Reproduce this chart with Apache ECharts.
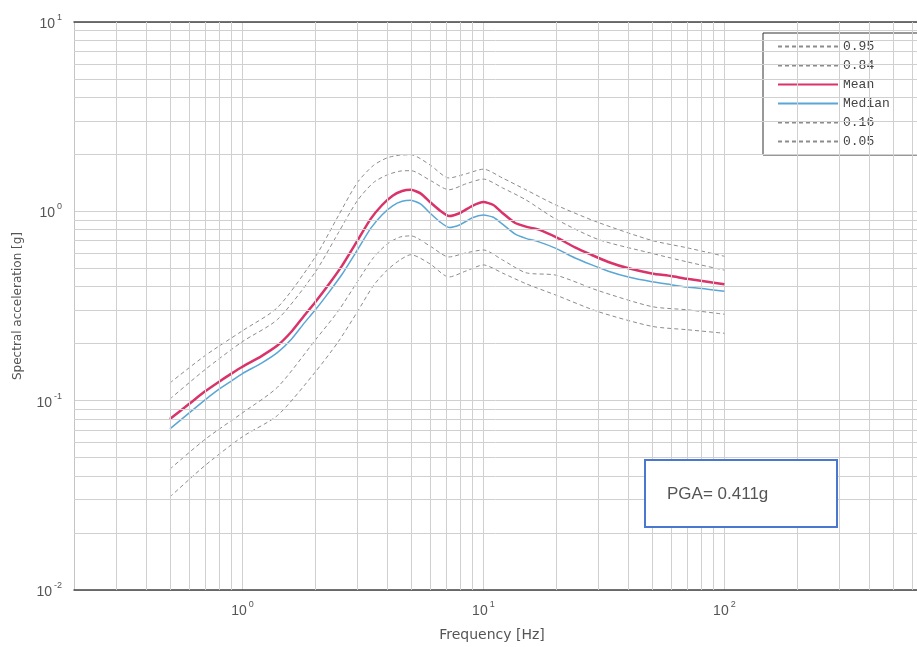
<!DOCTYPE html>
<html>
<head>
<meta charset="utf-8">
<script src="https://cdn.jsdelivr.net/npm/echarts@6/dist/echarts.min.js"></script>
<style>html,body{margin:0;padding:0;background:#fff;}#c{width:917px;height:647px;}</style>
</head>
<body>
<div id="c"></div>
<script>
// Frequencies (Hz) for Mean / Median
const freq = [0.5,0.6,0.7,0.8,0.9,1.0,1.2,1.4,1.6,1.8,2.0,2.3,2.6,3.0,3.4,3.8,4.2,4.6,5.0,5.5,6.0,6.6,7.2,8.0,9.0,10,11,12,13.5,15,17,20,24,28,33,40,50,60,70,85,100];
const meanSa = [0.080,0.096,0.112,0.126,0.139,0.151,0.172,0.196,0.232,0.280,0.330,0.417,0.52,0.70,0.91,1.08,1.21,1.28,1.30,1.24,1.12,1.01,0.945,0.98,1.07,1.12,1.08,0.98,0.87,0.83,0.80,0.73,0.645,0.59,0.54,0.50,0.47,0.455,0.44,0.425,0.412];
const medianSa = [0.071,0.086,0.101,0.115,0.127,0.139,0.158,0.180,0.212,0.256,0.300,0.378,0.468,0.625,0.81,0.96,1.07,1.13,1.145,1.09,0.98,0.88,0.822,0.85,0.925,0.955,0.93,0.855,0.76,0.72,0.69,0.637,0.567,0.523,0.483,0.45,0.425,0.41,0.398,0.388,0.378];
// Frequencies (Hz) for percentile curves
const pFreq = [0.5,0.7,1.0,1.4,2.0,2.5,3.0,3.5,4.0,4.5,5.0,6.0,7.2,8.5,10,12,15,20,30,50,70,100];
const p95 = [0.124,0.173,0.234,0.311,0.571,0.947,1.42,1.75,1.92,1.98,1.99,1.76,1.50,1.58,1.67,1.50,1.30,1.08,0.873,0.702,0.642,0.579];
const p84 = [0.102,0.146,0.205,0.269,0.475,0.770,1.14,1.42,1.56,1.63,1.64,1.46,1.30,1.40,1.48,1.33,1.15,0.909,0.710,0.600,0.541,0.489];
const p16 = [0.0435,0.0625,0.0862,0.118,0.208,0.298,0.425,0.570,0.674,0.731,0.742,0.656,0.574,0.604,0.625,0.554,0.474,0.460,0.381,0.314,0.302,0.286];
const p05 = [0.031,0.0455,0.0645,0.0837,0.141,0.205,0.295,0.406,0.491,0.553,0.590,0.528,0.450,0.485,0.521,0.472,0.415,0.361,0.295,0.247,0.237,0.227];
const legendNames = ['0.95','0.84','Mean','Median','0.16','0.05'];
const xRange = [0.2, 630];
const yRange = [0.01, 10];
const pgaText = 'PGA= 0.411g';

function pairs(xs, ys){ return xs.map((x,i)=>[x, ys[i]]); }
function minorVals(lo, hi){
  const out = [];
  for (let k=-3;k<=3;k++){ for (let m=2;m<=9;m++){ const v = m*Math.pow(10,k); if (v>lo*1.0001 && v<hi*0.9999) out.push(v); } }
  return out;
}
function powLabel(v){
  const l = Math.log10(v), e = Math.round(l);
  if (Math.abs(l-e) > 1e-6) return '';
  return '{b|10}{e|' + e + '}';
}
const gridColor = '#d0d0d0';
const rich = {
  b:{fontSize:14, color:'#555', fontFamily:'Liberation Sans', lineHeight:18, verticalAlign:'bottom'},
  e:{fontSize:9, color:'#555', fontFamily:'Liberation Sans', lineHeight:18, verticalAlign:'top', padding:[0,0,0,2]}
};
const dashStyle = {color:'#8c8c8c', width:1, type:[4,3]};
const chart = echarts.init(document.getElementById('c'), null, {renderer:'canvas'});
chart.setOption({
  animation:false,
  backgroundColor:'#fff',
  grid:{left:74, top:22, right:0, bottom:57},
  xAxis:[{
    type:'log', logBase:10, min:xRange[0], max:xRange[1],
    axisLine:{show:true, lineStyle:{color:'#444', width:1.5}},
    axisTick:{show:false},
    splitLine:{show:true, lineStyle:{color:gridColor, width:1}},
    axisLabel:{formatter:powLabel, rich:rich, margin:10, showMinLabel:false, showMaxLabel:false}
  },{
    type:'log', logBase:10, min:xRange[0], max:xRange[1], position:'top',
    axisLine:{show:true, lineStyle:{color:'#444', width:1.5}},
    axisTick:{show:false}, axisLabel:{show:false}, splitLine:{show:false}
  }],
  yAxis:{
    type:'log', logBase:10, min:yRange[0], max:yRange[1],
    name:'Spectral acceleration [g]', nameLocation:'middle', nameGap:50,
    nameTextStyle:{fontSize:12, color:'#555', fontFamily:'DejaVu Sans'},
    axisLine:{show:true, lineStyle:{color:'#c4c4c4', width:1}},
    axisTick:{show:false},
    splitLine:{show:true, lineStyle:{color:gridColor, width:1}},
    axisLabel:{formatter:powLabel, rich:rich, margin:12}
  },
  legend:{
    data:legendNames, orient:'vertical', left:763, top:33,
    padding:[6,40,6,14], itemWidth:60, itemHeight:14, itemGap:4,
    itemStyle:{opacity:0},
    borderColor:'#333', borderWidth:1, backgroundColor:'#fff',
    textStyle:{fontFamily:'Liberation Mono', fontSize:13, color:'#444', lineHeight:15}
  },
  graphic:[
    {type:'rect', shape:{x:645, y:460, width:192, height:67}, style:{fill:'#fff', stroke:'#4a78d0', lineWidth:2}, z:100},
    {type:'text', x:667, y:494, style:{text:pgaText, fontSize:17, fontFamily:'Liberation Sans', fill:'#555', textVerticalAlign:'middle'}, z:101},
    {type:'text', x:492, y:635, style:{text:'Frequency [Hz]', fontSize:14, fontFamily:'DejaVu Sans', fill:'#555', textAlign:'center', textVerticalAlign:'middle'}}
  ],
  series:[
    {type:'line', name:'_grid', data:[], z:1, silent:true,
      markLine:{silent:true, symbol:['none','none'], label:{show:false},
        lineStyle:{color:gridColor, width:1, type:'solid'},
        data: minorVals(xRange[0], xRange[1]).map(v=>({xAxis:v})).concat(minorVals(yRange[0], yRange[1]).map(v=>({yAxis:v})))}},
    {type:'line', name:'0.95', data:pairs(pFreq,p95), symbol:'none', smooth:0.25, lineStyle:dashStyle, itemStyle:{color:'#8c8c8c'}},
    {type:'line', name:'0.84', data:pairs(pFreq,p84), symbol:'none', smooth:0.25, lineStyle:dashStyle, itemStyle:{color:'#8c8c8c'}},
    {type:'line', name:'0.16', data:pairs(pFreq,p16), symbol:'none', smooth:0.25, lineStyle:dashStyle, itemStyle:{color:'#8c8c8c'}},
    {type:'line', name:'0.05', data:pairs(pFreq,p05), symbol:'none', smooth:0.25, lineStyle:dashStyle, itemStyle:{color:'#8c8c8c'}},
    {type:'line', name:'Median', data:pairs(freq,medianSa), symbol:'none', smooth:0.2, lineStyle:{color:'#5aa6d6', width:1.5}, itemStyle:{color:'#5aa6d6'}},
    {type:'line', name:'Mean', data:pairs(freq,meanSa), symbol:'none', smooth:0.2, lineStyle:{color:'#d9336a', width:2.5}, itemStyle:{color:'#d9336a'}}
  ]
});
</script>
</body>
</html>
